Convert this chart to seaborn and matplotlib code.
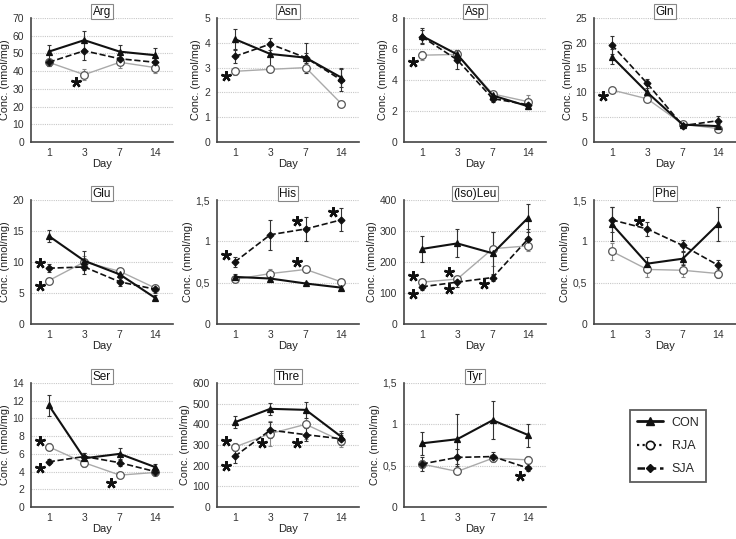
import matplotlib
matplotlib.use("Agg")
import matplotlib.pyplot as plt
import seaborn as sns
import pandas as pd
from matplotlib.lines import Line2D

days = ["1", "3", "7", "14"]
panels = ["Arg", "Asn", "Asp", "Gln", "Glu", "His", "(Iso)Leu", "Phe", "Ser", "Thre", "Tyr"]

con_mean = {"Arg": [51, 57.5, 51, 49], "Asn": [4.15, 3.55, 3.4, 2.6], "Asp": [6.85, 5.65, 3.0, 2.3],
            "Gln": [17.2, 10.0, 3.5, 3.2], "Glu": [14.2, 10.2, 8.0, 4.2], "His": [0.57, 0.55, 0.49, 0.44],
            "(Iso)Leu": [242, 260, 228, 343], "Phe": [1.21, 0.73, 0.79, 1.21], "Ser": [11.5, 5.5, 6.0, 4.5],
            "Thre": [410, 475, 470, 340], "Tyr": [0.77, 0.82, 1.05, 0.87]}
con_err = {"Arg": [4, 5, 4, 4], "Asn": [0.4, 0.5, 0.6, 0.4], "Asp": [0.5, 0.3, 0.2, 0.2],
           "Gln": [1.5, 1.5, 0.5, 0.5], "Glu": [1.0, 1.5, 0.6, 0.4], "His": [0.03, 0.02, 0.02, 0.02],
           "(Iso)Leu": [42, 45, 70, 45], "Phe": [0.2, 0.08, 0.08, 0.2], "Ser": [1.2, 0.6, 0.7, 0.4],
           "Thre": [30, 30, 40, 30], "Tyr": [0.14, 0.3, 0.23, 0.14]}
rja_mean = {"Arg": [45, 38, 45, 42], "Asn": [2.85, 2.93, 3.0, 1.55], "Asp": [5.6, 5.65, 3.1, 2.6],
            "Gln": [10.5, 8.7, 3.6, 2.7], "Glu": [7.0, 10.0, 8.5, 5.8], "His": [0.54, 0.61, 0.66, 0.51],
            "(Iso)Leu": [135, 145, 243, 252], "Phe": [0.88, 0.66, 0.65, 0.61], "Ser": [6.8, 5.0, 3.6, 3.9],
            "Thre": [290, 355, 400, 320], "Tyr": [0.52, 0.43, 0.59, 0.57]}
rja_err = {"Arg": [2, 3, 3, 3], "Asn": [0.15, 0.1, 0.1, 0.1], "Asp": [0.3, 0.3, 0.2, 0.4],
           "Gln": [0.5, 0.5, 0.3, 0.3], "Glu": [0.5, 1.0, 0.5, 0.5], "His": [0.03, 0.05, 0.03, 0.04],
           "(Iso)Leu": [10, 10, 55, 15], "Phe": [0.1, 0.09, 0.08, 0.05], "Ser": [0.4, 0.5, 0.3, 0.4],
           "Thre": [20, 60, 70, 30], "Tyr": [0.05, 0.03, 0.04, 0.05]}
sja_mean = {"Arg": [45, 51.5, 47, 45], "Asn": [3.45, 3.95, 3.4, 2.5], "Asp": [6.8, 5.3, 2.8, 2.4],
            "Gln": [19.6, 11.8, 3.3, 4.3], "Glu": [9.0, 9.2, 6.8, 5.6], "His": [0.75, 1.08, 1.15, 1.26],
            "(Iso)Leu": [120, 135, 150, 275], "Phe": [1.26, 1.15, 0.95, 0.71], "Ser": [5.1, 5.7, 5.0, 4.0],
            "Thre": [245, 372, 350, 330], "Tyr": [0.52, 0.60, 0.61, 0.47]}
sja_err = {"Arg": [2, 5, 3, 3], "Asn": [0.25, 0.25, 0.2, 0.45], "Asp": [0.4, 0.6, 0.2, 0.2],
           "Gln": [1.8, 1.0, 0.3, 1.0], "Glu": [0.6, 1.2, 0.6, 0.6], "His": [0.06, 0.18, 0.15, 0.14],
           "(Iso)Leu": [10, 15, 10, 30], "Phe": [0.15, 0.08, 0.07, 0.07], "Ser": [0.3, 0.4, 0.4, 0.4],
           "Thre": [30, 40, 30, 30], "Tyr": [0.08, 0.1, 0.05, 0.03]}

y_max = {"Arg": 70, "Asn": 5, "Asp": 8, "Gln": 25, "Glu": 20, "His": 1.5, "(Iso)Leu": 400,
         "Phe": 1.5, "Ser": 14, "Thre": 600, "Tyr": 1.5}
y_step = {"Arg": 10, "Asn": 1, "Asp": 2, "Gln": 5, "Glu": 5, "His": 0.5, "(Iso)Leu": 100,
          "Phe": 0.5, "Ser": 2, "Thre": 100, "Tyr": 0.5}

# significance stars: (day index, y value)
stars = {"Arg": [(1, 34)], "Asn": [(0, 2.65)], "Asp": [(0, 5.15)], "Gln": [(0, 9.2)],
         "Glu": [(0, 9.8), (0, 6.1)], "His": [(0, 0.83), (2, 1.24), (3, 1.35), (2, 0.75)],
         "(Iso)Leu": [(0, 155), (0, 97), (1, 167), (1, 113), (2, 128)], "Phe": [(1, 1.25)],
         "Ser": [(0, 7.5), (0, 4.4), (2, 2.7)], "Thre": [(0, 320), (0, 200), (1, 310), (2, 310)],
         "Tyr": [(3, 0.37)]}

sns.set_theme(style="white")
plt.rcParams["font.family"] = ["Liberation Sans", "DejaVu Sans"]

fig = plt.figure(figsize=(7.36, 5.39), dpi=100)
W, H = 736, 539
col_left = [31, 217, 404, 594]
row_top = [18, 200, 383]
aw, ah = 142, 124

styles = {
    "CON": dict(color="#111111", marker="^", ls="-", lw=1.5, mfc="#111111", ms=5, ecolor="#333333"),
    "RJA": dict(color="#aaaaaa", marker="o", ls="-", lw=1.0, mfc="white", ms=5.5, ecolor="#888888"),
    "SJA": dict(color="#111111", marker="D", ls="--", lw=1.2, mfc="#111111", ms=3.5, ecolor="#333333"),
}
series = {"CON": (con_mean, con_err), "RJA": (rja_mean, rja_err), "SJA": (sja_mean, sja_err)}

def fmt(v):
    s = ("%g" % v)
    return s.replace(".", ",")

for i, name in enumerate(panels):
    r, c = divmod(i, 4)
    ax = fig.add_axes([col_left[c] / W, 1 - (row_top[r] + ah) / H, aw / W, ah / H])
    pos = list(range(len(days)))
    for g in ["RJA", "SJA", "CON"]:
        mean, err = series[g]
        st = styles[g]
        df = pd.DataFrame({"x": pos, "y": mean[name]})
        ax.errorbar(pos, mean[name], yerr=err[name], fmt="none", ecolor=st["ecolor"],
                    elinewidth=0.8, capsize=1.5, capthick=0.8, zorder=2)
        sns.lineplot(data=df, x="x", y="y", ax=ax, color=st["color"], lw=st["lw"], ls=st["ls"],
                     marker=st["marker"], markersize=st["ms"], markerfacecolor=st["mfc"],
                     markeredgecolor="#111111" if g != "RJA" else "#555555", markeredgewidth=0.9,
                     zorder=3, legend=False)
    for (di, yv) in stars[name]:
        ax.plot(di - 0.24, yv, marker=(5, 2, 0), color="#111111", ms=7.5, mew=1.7, ls="none",
                zorder=4, clip_on=False)
    ax.set_xlim(-0.5, 3.5)
    ym, ys = y_max[name], y_step[name]
    ax.set_ylim(0, ym)
    ticks = [k * ys for k in range(int(round(ym / ys)) + 1)]
    ax.set_yticks(ticks)
    ax.set_yticklabels([fmt(t) for t in ticks])
    ax.set_xticks(pos)
    ax.set_xticklabels(days)
    for t in ticks[1:]:
        ax.axhline(t, color="#c8c8c8", lw=0.8, ls=(0, (1, 1)), zorder=0)
    for s in ["top", "right"]:
        ax.spines[s].set_visible(False)
    for s in ["left", "bottom"]:
        ax.spines[s].set_color("#444444")
        ax.spines[s].set_linewidth(1.2)
    ax.tick_params(axis="x", labelsize=7.5, colors="#333333", length=0, pad=4)
    ax.tick_params(axis="y", labelsize=7.5, colors="#333333", length=0, pad=5)
    ax.set_xlabel("Day", fontsize=8, color="#222222", labelpad=1)
    ax.set_ylabel("Conc. (nmol/mg)", fontsize=7.8, color="#222222", labelpad=2)
    ax.set_title(name, fontsize=8.5, color="#111111", pad=2.5,
                 bbox=dict(facecolor="white", edgecolor="#888888", pad=1.3, lw=0.8))

# legend
handles = [
    Line2D([], [], color="#111111", lw=2.0, ls="-", marker="^", ms=6, mfc="#111111", mec="#111111"),
    Line2D([], [], color="#111111", lw=1.6, ls=(0, (1, 1.5)), marker="o", ms=6, mfc="white", mec="#111111", mew=1.2),
    Line2D([], [], color="#111111", lw=1.8, ls=(0, (3, 1.5)), marker="D", ms=4.5, mfc="#111111", mec="#111111"),
]
leg = fig.legend(handles, ["CON", "RJA", "SJA"], loc="center",
                 bbox_to_anchor=(668 / W, 1 - 446 / H), frameon=True, fontsize=9,
                 handlelength=2.1, handletextpad=0.7, labelspacing=0.9, borderpad=0.55,
                 fancybox=False)
leg.get_frame().set_edgecolor("#333333")
leg.get_frame().set_linewidth(1.3)

fig.savefig("out.png", dpi=100)
